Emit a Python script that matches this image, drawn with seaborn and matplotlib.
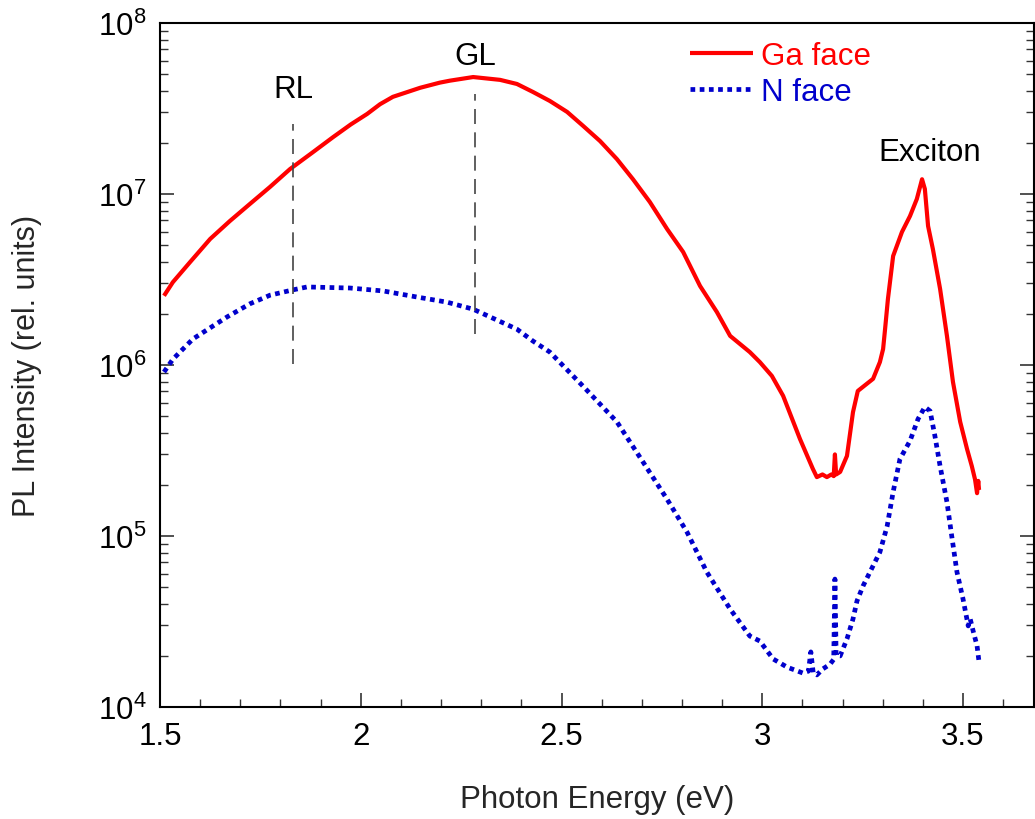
import matplotlib
matplotlib.use("Agg")
import matplotlib.pyplot as plt
import matplotlib.ticker as mticker
import numpy as np
import pandas as pd
import seaborn as sns

# Photoluminescence spectra of the two GaN faces
ga_energy = [1.51, 1.532, 1.575, 1.625, 1.674, 1.724, 1.774, 1.824, 1.88, 1.931,
             1.975, 2.016, 2.048, 2.08, 2.148, 2.197, 2.222, 2.28, 2.347, 2.389,
             2.429, 2.471, 2.514, 2.554, 2.596, 2.638, 2.678, 2.72, 2.763, 2.803,
             2.845, 2.887, 2.92, 2.969, 2.994, 3.024, 3.052, 3.094, 3.126, 3.136,
             3.15, 3.161, 3.172, 3.178, 3.181, 3.184, 3.194, 3.211, 3.226, 3.238,
             3.276, 3.293, 3.301, 3.306, 3.313, 3.326, 3.348, 3.368, 3.385, 3.398,
             3.405, 3.413, 3.425, 3.443, 3.46, 3.475, 3.493, 3.51, 3.522, 3.53,
             3.535, 3.538, 3.54]
ga_intensity = [2.54e6, 3.05e6, 4.0e6, 5.46e6, 6.95e6, 8.75e6, 1.10e7, 1.40e7, 1.75e7, 2.15e7,
                2.55e7, 2.94e7, 3.35e7, 3.70e7, 4.18e7, 4.48e7, 4.60e7, 4.83e7, 4.65e7, 4.40e7,
                3.95e7, 3.50e7, 3.02e7, 2.50e7, 2.04e7, 1.60e7, 1.22e7, 8.98e6, 6.24e6, 4.58e6,
                2.90e6, 2.04e6, 1.48e6, 1.19e6, 1.04e6, 8.63e5, 6.6e5, 3.69e5, 2.47e5, 2.21e5,
                2.29e5, 2.21e5, 2.29e5, 2.24e5, 3.0e5, 2.29e5, 2.37e5, 2.94e5, 5.3e5, 7.05e5,
                8.3e5, 1.04e6, 1.24e6, 1.63e6, 2.43e6, 4.34e6, 6.0e6, 7.43e6, 9.35e6, 1.22e7,
                1.07e7, 6.5e6, 4.76e6, 2.78e6, 1.48e6, 7.96e5, 4.65e5, 3.23e5, 2.56e5, 2.14e5,
                1.78e5, 2.1e5, 1.86e5]

n_energy = [1.51, 1.532, 1.582, 1.667, 1.724, 1.774, 1.831, 1.866, 1.973, 2.056,
            2.139, 2.215, 2.28, 2.389, 2.429, 2.471, 2.554, 2.638, 2.703, 2.763,
            2.813, 2.862, 2.92, 2.969, 2.994, 3.027, 3.062, 3.101, 3.115, 3.121,
            3.127, 3.136, 3.151, 3.169, 3.178, 3.181, 3.184, 3.194, 3.211, 3.226,
            3.236, 3.251, 3.293, 3.311, 3.326, 3.343, 3.368, 3.388, 3.405, 3.418,
            3.43, 3.443, 3.46, 3.473, 3.485, 3.5, 3.513, 3.518, 3.525, 3.535, 3.54]
n_intensity = [9.1e5, 1.08e6, 1.42e6, 1.91e6, 2.28e6, 2.56e6, 2.75e6, 2.86e6, 2.82e6, 2.71e6,
               2.50e6, 2.33e6, 2.12e6, 1.62e6, 1.38e6, 1.19e6, 7.5e5, 4.65e5, 2.71e5, 1.64e5,
               1.05e5, 6.15e4, 3.74e4, 2.60e4, 2.43e4, 1.91e4, 1.71e4, 1.58e4, 1.62e4, 2.1e4,
               1.58e4, 1.54e4, 1.67e4, 1.78e4, 1.9e4, 5.6e4, 2.0e4, 1.99e4, 2.5e4, 3.27e4,
               4.17e4, 5.1e4, 8.05e4, 1.14e5, 1.81e5, 2.82e5, 3.6e5, 4.83e5, 5.68e5, 5.38e5,
               3.85e5, 2.56e5, 1.58e5, 9.6e4, 6.15e4, 4.29e4, 2.98e4, 3.27e4, 2.8e4, 2.28e4, 1.83e4]

series_names = ["Ga face", "N face"]
series_colors = ["#ff0000", "#0000cc"]

# Band markers: label, energy, dashed span
band_labels = ["RL", "GL"]
band_energy = [1.831, 2.285]
band_low = [1.01e6, 1.52e6]
band_high = [2.56e7, 3.85e7]
band_text_y = [4.1e7, 6.4e7]

exciton_label = "Exciton"
exciton_pos = (3.418, 1.76e7)

x_ticks = [1.5, 2.0, 2.5, 3.0, 3.5]
x_tick_labels = ["1.5", "2", "2.5", "3", "3.5"]
y_ticks = [1e4, 1e5, 1e6, 1e7, 1e8]
y_tick_labels = ["10$^{4}$", "10$^{5}$", "10$^{6}$", "10$^{7}$", "10$^{8}$"]

FS = 22.5

sns.set_theme(style="white")
plt.rcParams["font.family"] = ["Liberation Sans", "DejaVu Sans"]
plt.rcParams["mathtext.fontset"] = "custom"
plt.rcParams["mathtext.rm"] = "Liberation Sans"
plt.rcParams["mathtext.it"] = "Liberation Sans"

df = pd.concat([
    pd.DataFrame({"energy": ga_energy, "intensity": ga_intensity, "face": series_names[0]}),
    pd.DataFrame({"energy": n_energy, "intensity": n_intensity, "face": series_names[1]}),
], ignore_index=True)

fig = plt.figure(figsize=(10.35, 8.2), dpi=100)
ax = fig.add_axes([160 / 1035, 112 / 820, 874 / 1035, 684 / 820])

sns.lineplot(data=df[df.face == series_names[0]], x="energy", y="intensity",
             color=series_colors[0], linewidth=3.0, estimator=None, sort=False,
             ax=ax, label=series_names[0])
sns.lineplot(data=df[df.face == series_names[1]], x="energy", y="intensity",
             color=series_colors[1], linewidth=3.4, estimator=None, sort=False,
             ax=ax, label=series_names[1], linestyle=(0, (1.0, 0.95)))
for line in ax.get_lines():
    line.set_solid_capstyle("butt")
    line.set_dash_capstyle("butt")

ax.set_yscale("log")
ax.set_xlim(1.5, 1.5 + 874 / 401.5)
ax.set_ylim(1e4, 1e8)

# Dashed markers for the red and green luminescence bands
for lab, e, lo, hi, ty in zip(band_labels, band_energy, band_low, band_high, band_text_y):
    ax.vlines(e, lo, hi, colors="#444444", linestyles=(0, (9, 5)), linewidth=1.2)
    ax.text(e, ty, lab, ha="center", va="center", fontsize=FS, color="black")
ax.text(exciton_pos[0], exciton_pos[1], exciton_label, ha="center", va="center",
        fontsize=FS, color="black")

ax.set_xticks(x_ticks)
ax.set_xticklabels(x_tick_labels)
ax.xaxis.set_minor_locator(mticker.MultipleLocator(0.1))
ax.set_yticks(y_ticks)
ax.set_yticklabels(y_tick_labels)
ax.yaxis.set_minor_locator(mticker.LogLocator(base=10, subs=np.arange(2, 10)))
ax.yaxis.set_minor_formatter(mticker.NullFormatter())

ax.tick_params(axis="both", which="major", direction="in", length=10, width=1.2,
               color="#333333", labelsize=FS, labelcolor="black", pad=10)
ax.tick_params(axis="both", which="minor", direction="in", length=6, width=1.0,
               color="#333333")
ax.tick_params(axis="y", which="both", left=True, right=True)
ax.tick_params(axis="x", which="both", bottom=True, top=False)

for side in ["left", "bottom", "top", "right"]:
    ax.spines[side].set_visible(True)
    ax.spines[side].set_color("black")
    ax.spines[side].set_linewidth(1.5)

ax.set_xlabel("Photon Energy (eV)", fontsize=FS, labelpad=24)
ax.set_ylabel("PL Intensity (rel. units)", fontsize=22, labelpad=40)

leg = ax.legend(loc="upper left", bbox_to_anchor=((690 - 160) / 874, (708 - 42) / 684),
                frameon=False, fontsize=FS, handlelength=2.0, handletextpad=0.28,
                labelspacing=0.2, borderaxespad=0.0, borderpad=0.0)
for txt, col in zip(leg.get_texts(), series_colors):
    txt.set_color(col)

fig.savefig("out.png", dpi=100)
